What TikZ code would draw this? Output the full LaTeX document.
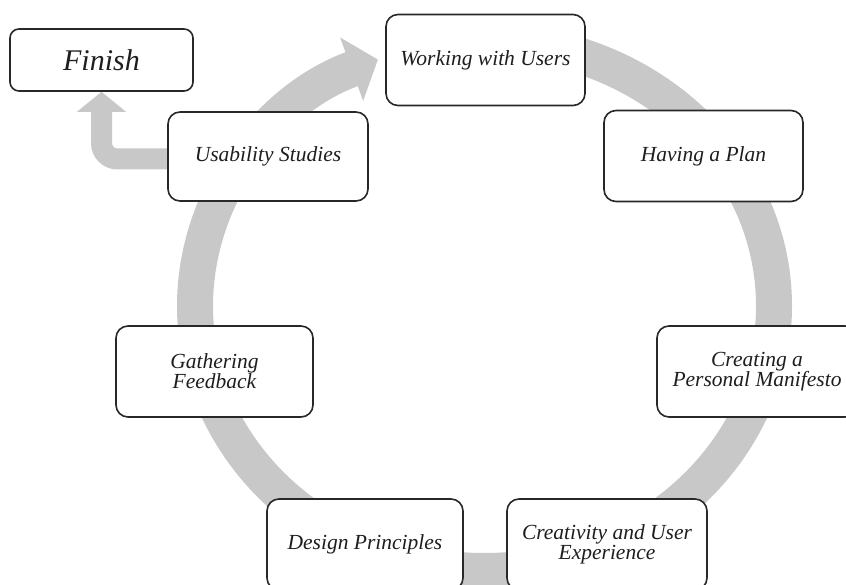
\documentclass[tikz,border=0pt]{standalone}
\usepackage{fontspec}
\setmainfont{Liberation Serif}
\usetikzlibrary{arrows.meta,backgrounds,calc}
\definecolor{ringgray}{RGB}{200,200,200}
\definecolor{boxline}{RGB}{40,40,40}
\definecolor{txt}{RGB}{30,30,30}
\begin{document}
\begin{tikzpicture}[x=1pt,y=-1pt,
  stage/.style={draw=boxline, line width=1.6pt, fill=white, rounded corners=12pt,
    inner sep=0pt, text=txt, align=center,
    font=\itshape\fontsize{21.5}{20}\selectfont,
    minimum width=199pt, minimum height=91pt},
  cyclearrow/.style={ringgray, line width=36pt, -{Triangle[width=66pt,length=28pt]}},
  exitarrow/.style={ringgray, line width=21pt, -{Triangle[width=48pt,length=20pt]}}]
\clip (0,0) rectangle (846,585);

% stages of the cycle
\node[stage] (work) at (485.5,60) {Working with Users};
\node[stage] (plan) at (703.5,156) {Having a Plan};
\node[stage, minimum width=200pt] (manif) at (757,371.5) {Creating a\\Personal Manifesto};
\node[stage, minimum width=200pt] (creat) at (607,544.5) {Creativity and User\\Experience};
\node[stage, minimum width=196pt] (design) at (365,544.5) {Design Principles};
\node[stage, minimum width=197pt] (gather) at (214.5,371.5) {Gathering\\Feedback};
\node[stage, minimum width=200pt, minimum height=89pt] (usab) at (268,156.5) {Usability Studies};
\node[stage, minimum width=183pt, minimum height=62pt, rounded corners=9pt,
  font=\itshape\fontsize{30}{30}\selectfont] (fin) at (101.5,60) {Finish};

% grey arrows behind the boxes
\begin{scope}[on background layer]
  \coordinate (ringtop) at (484.5,41);
  \draw[cyclearrow] (ringtop)
    arc[start angle=90, end angle=-248.4, x radius=289.5pt, y radius=265pt];
  \draw[exitarrow] ($(usab.west)+(0,2.5)$) [rounded corners=16pt] -| (fin.south);
\end{scope}
\end{tikzpicture}
\end{document}
